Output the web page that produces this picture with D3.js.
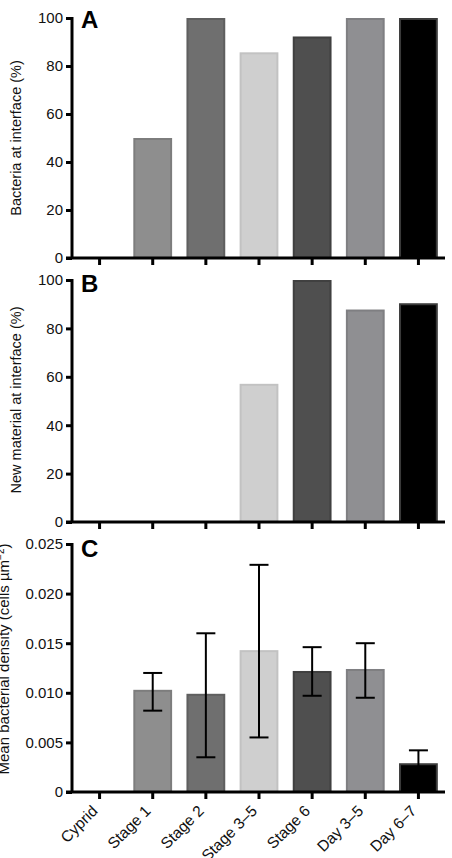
<!DOCTYPE html>
<html>
<head>
<meta charset="utf-8">
<script src="https://cdn.jsdelivr.net/npm/d3@7"></script>
<style>
  body { margin: 0; background: #fff; }
  text { font-family: "Liberation Sans", Arial, sans-serif; }
</style>
</head>
<body>
<script>
// categories shared by the three panels
var stages = ["Cyprid", "Stage 1", "Stage 2", "Stage 3\u20135", "Stage 6", "Day 3\u20135", "Day 6\u20137"];
var fills = ["#ffffff", "#8e8e8e", "#6f6f6f", "#cfcfcf", "#4f4f4f", "#8f8f92", "#000000"];
var strokes = ["#ffffff", "#7d7d7d", "#5f5f5f", "#c2c2c2", "#404040", "#7f7f82", "#3a3a3a"];

// panel A: bacteria at interface (%)
var bacteriaPct = [0, 50, 100, 85.7, 92.3, 100, 100];
// panel B: new material at interface (%)
var materialPct = [0, 0, 0, 57.1, 100, 87.8, 90.4];
// panel C: mean bacterial density with error bar ends
var density = [0, 0.0103, 0.0099, 0.0143, 0.0122, 0.0124, 0.0029];
var densityLow = [null, 0.0082, 0.0035, 0.0055, 0.0097, 0.0095, 0.0016];
var densityHigh = [null, 0.0120, 0.0160, 0.0229, 0.0146, 0.0150, 0.0042];

var pctTicks = [0, 20, 40, 60, 80, 100];
var densityTicks = [0, 0.005, 0.010, 0.015, 0.020, 0.025];

var W = 452, H = 858;
var axisX = 72;

var svg = d3.select("body").append("svg")
    .attr("width", W)
    .attr("height", H);

var x = d3.scaleBand()
    .domain(stages)
    .range([73, 445])
    .paddingInner(0.27)
    .paddingOuter(0.135);

var panels = [
  {label: "A", values: bacteriaPct, top: 18, bottom: 258, max: 100, ticks: pctTicks,
   fmt: d3.format("d"), title: "Bacteria at interface (%)", titleX: 21, titleY: 138, letterY: 28},
  {label: "B", values: materialPct, top: 280, bottom: 522, max: 100, ticks: pctTicks,
   fmt: d3.format("d"), title: "New material at interface (%)", titleX: 21, titleY: 400, letterY: 292},
  {label: "C", values: density, top: 544, bottom: 792, max: 0.025, ticks: densityTicks,
   fmt: function(d) { return d === 0 ? "0" : d3.format(".3f")(d); }, title: null, titleX: 9, titleY: 659, letterY: 557}
];

panels.forEach(function(p, pi) {
  var y = d3.scaleLinear().domain([0, p.max]).range([p.bottom, p.top]);
  var g = svg.append("g");

  // bars
  g.selectAll(".bar")
    .data(p.values.map(function(v, i) { return {k: stages[i], v: v, i: i}; })
      .filter(function(d) { return d.v > 0; }))
    .enter().append("rect")
    .attr("x", function(d) { return x(d.k) + 1; })
    .attr("y", function(d) { return y(d.v) + 1; })
    .attr("width", x.bandwidth() - 2)
    .attr("height", function(d) { return p.bottom - y(d.v) - 1; })
    .attr("fill", function(d) { return fills[d.i]; })
    .attr("stroke", function(d) { return strokes[d.i]; })
    .attr("stroke-width", 2);

  // error bars for panel C
  if (pi === 2) {
    var eb = density.map(function(v, i) {
      return {k: stages[i], lo: densityLow[i], hi: densityHigh[i]};
    }).filter(function(d) { return d.lo !== null; });
    var cap = 9.5;
    var e = g.selectAll(".err").data(eb).enter().append("g")
      .attr("stroke", "#000").attr("stroke-width", 2);
    e.append("line")
      .attr("x1", function(d) { return x(d.k) + x.bandwidth() / 2; })
      .attr("x2", function(d) { return x(d.k) + x.bandwidth() / 2; })
      .attr("y1", function(d) { return y(d.lo); })
      .attr("y2", function(d) { return y(d.hi); });
    e.append("line")
      .attr("x1", function(d) { return x(d.k) + x.bandwidth() / 2 - cap; })
      .attr("x2", function(d) { return x(d.k) + x.bandwidth() / 2 + cap; })
      .attr("y1", function(d) { return y(d.hi); })
      .attr("y2", function(d) { return y(d.hi); });
    e.append("line")
      .attr("x1", function(d) { return x(d.k) + x.bandwidth() / 2 - cap; })
      .attr("x2", function(d) { return x(d.k) + x.bandwidth() / 2 + cap; })
      .attr("y1", function(d) { return y(d.lo); })
      .attr("y2", function(d) { return y(d.lo); });
  }

  // y axis
  var ya = g.append("g")
    .attr("transform", "translate(" + axisX + ",0)")
    .call(d3.axisLeft(y).tickValues(p.ticks).tickFormat(p.fmt).tickSize(6).tickPadding(3).tickSizeOuter(0));
  ya.select(".domain").attr("stroke-width", 3).attr("d", "M0," + (p.top - 1) + "V" + p.bottom);
  ya.selectAll(".tick line").attr("stroke-width", 3);
  ya.selectAll(".tick text").attr("font-size", 15).attr("fill", "#111")
    .style("font-family", "Liberation Sans, Arial, sans-serif");

  // x axis
  var xa = g.append("g")
    .attr("transform", "translate(0," + p.bottom + ")")
    .call(d3.axisBottom(x).tickSize(7).tickSizeOuter(0).tickFormat(pi === 2 ? null : ""));
  xa.select(".domain").attr("stroke-width", 3).attr("d", "M" + (axisX - 6) + ",0H445");
  xa.selectAll(".tick line").attr("stroke-width", 3);
  if (pi === 2) {
    xa.selectAll(".tick text")
      .attr("font-size", 15.5)
      .attr("fill", "#111")
      .style("font-family", "Liberation Sans, Arial, sans-serif")
      .attr("text-anchor", "end")
      .attr("x", 0)
      .attr("y", 0)
      .attr("dy", 0)
      .attr("transform", "translate(-1,20) rotate(-45)");
  }

  // panel letter
  g.append("text")
    .attr("x", 81)
    .attr("y", p.letterY)
    .attr("font-size", 24)
    .attr("font-weight", "bold")
    .text(p.label);

  // y title
  var t = g.append("text")
    .attr("transform", "translate(" + p.titleX + "," + p.titleY + ") rotate(-90)")
    .attr("text-anchor", "middle")
    .attr("font-size", p.title ? 14.5 : 15)
    .attr("fill", "#111");
  if (p.title) {
    t.text(p.title);
  } else {
    t.append("tspan").text("Mean bacterial density (cells \u00b5m");
    t.append("tspan").attr("dy", -5).attr("font-size", 10).text("\u22122");
    t.append("tspan").attr("dy", 5).text(")");
  }
});
</script>
</body>
</html>
